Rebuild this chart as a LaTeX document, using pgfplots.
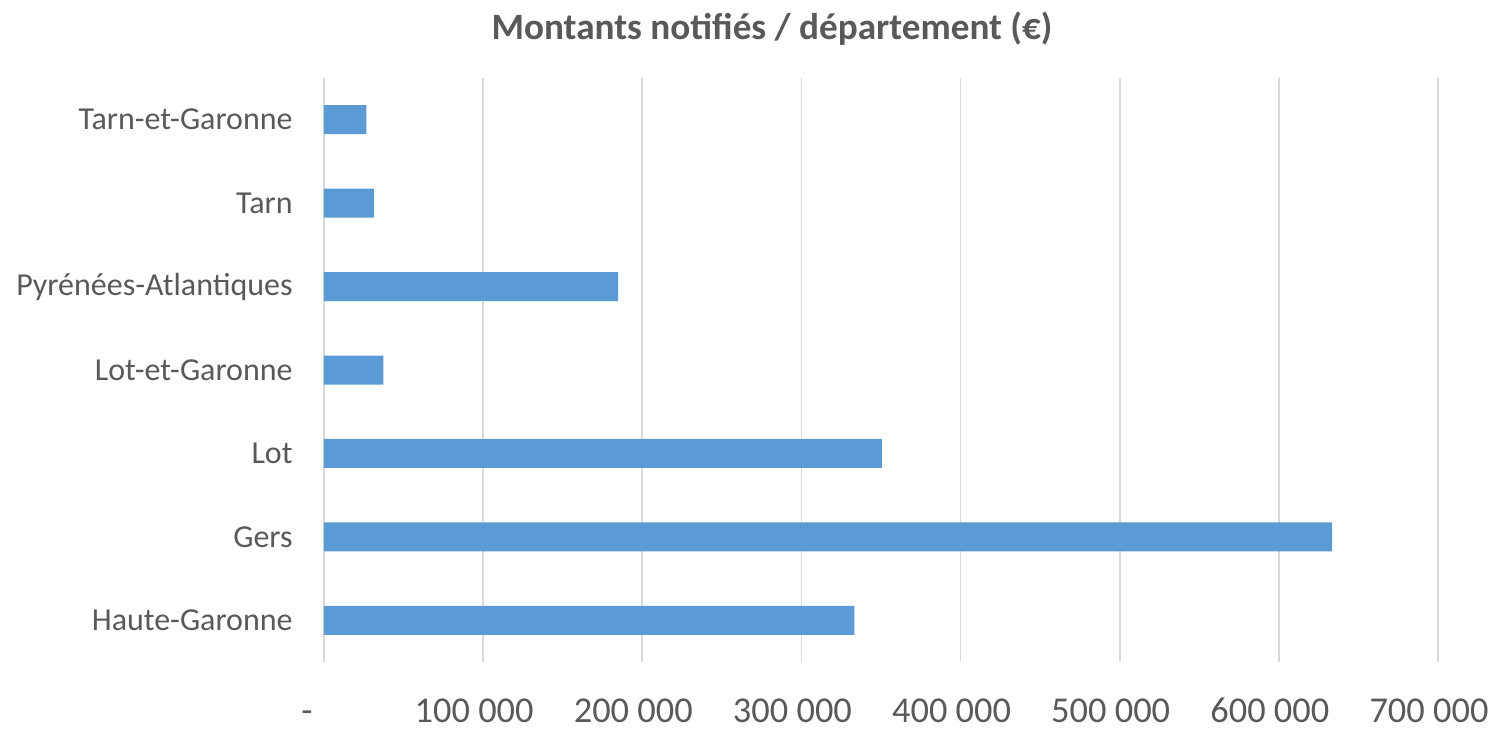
\documentclass[border=0pt]{standalone}
\usepackage{fontspec}
\setmainfont{Carlito}
\usepackage{pgfplots}
\pgfplotsset{compat=1.18}
\usetikzlibrary{calc}
\definecolor{barblue}{HTML}{5B9BD5}
\definecolor{txtgray}{HTML}{595959}
\definecolor{gridgray}{HTML}{D9D9D9}
\begin{document}
\begin{tikzpicture}
\begin{axis}[
  name=ax,
  scale only axis,
  width=557pt, height=292pt,
  xbar, bar width=14.5pt,
  xmin=0, xmax=700000,
  ymin=-0.5, ymax=6.5,
  scaled x ticks=false,
  xtick={0,100000,200000,300000,400000,500000,600000,700000},
  xticklabels={-\rule{8pt}{0pt},100 000,200 000,300 000,400 000,500 000,600 000,700 000},
  ytick={0,1,2,3,4,5,6},
  yticklabels={Haute-Garonne,Gers,Lot,Lot-et-Garonne,Pyrénées-Atlantiques,Tarn,Tarn-et-Garonne},
  xmajorgrids,
  grid style={gridgray, line width=0.9pt},
  axis line style={draw=none},
  major tick length=0pt,
  xticklabel style={font=\fontsize{18.2}{20}\selectfont, text=txtgray, anchor=base, inner sep=0pt, yshift=-30pt, xshift=-4.5pt},
  yticklabel style={font=\fontsize{16}{18}\selectfont, text=txtgray, anchor=east, inner sep=0pt, xshift=-15.5pt},
]
\addplot[fill=barblue, draw=none] coordinates {
  (333300,0) (633400,1) (350500,2) (37300,3) (184900,4) (31400,5) (26600,6)
};
\end{axis}
\node[anchor=base, font=\bfseries\fontsize{18.6}{20}\selectfont, text=txtgray] at ($(ax.south west)+(224pt,311pt)$) {Montants notifiés / département (€)};
\pgfresetboundingbox
\path[use as bounding box] ($(ax.south west)+(-162pt,-33.5pt)$) rectangle ($(ax.south west)+(587.5pt,331pt)$);
\end{tikzpicture}
\end{document}
